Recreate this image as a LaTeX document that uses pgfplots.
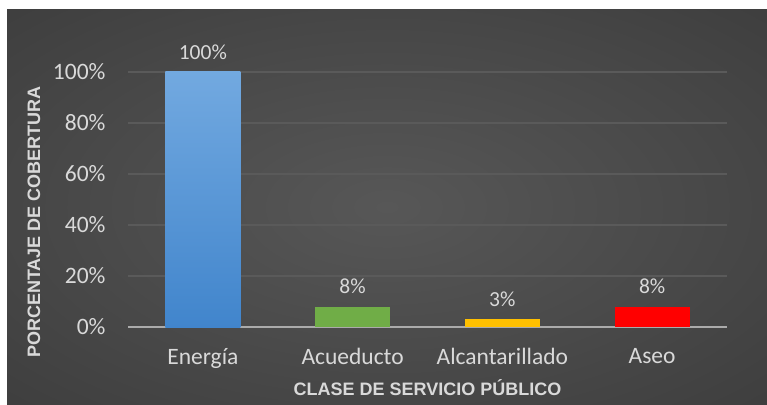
\documentclass[border=0pt]{standalone}
\usepackage{pgfplots}
\pgfplotsset{compat=1.18}
\usepackage{fontspec}
\setmainfont{Carlito}
\newfontfamily\titlefont{Liberation Sans}

\definecolor{bgin}{HTML}{575757}
\definecolor{bgmid}{HTML}{383838}
\definecolor{bgout}{HTML}{232323}
\definecolor{txt}{HTML}{D9D9D9}
\definecolor{gridc}{HTML}{5A5A5A}
\definecolor{basec}{HTML}{ABABAB}
\definecolor{blueTop}{HTML}{72A9E0}
\definecolor{blueBot}{HTML}{4185CC}
\definecolor{greenc}{HTML}{70AD47}
\definecolor{goldc}{HTML}{FFC000}
\definecolor{redc}{HTML}{FF0000}

\pgfdeclareradialshading{bgshade}{\pgfpoint{0bp}{0bp}}{%
  color(0bp)=(bgin); color(45bp)=(bgmid); color(71bp)=(bgout)}

\begin{document}
\begin{tikzpicture}[x=1pt,y=1pt]
\useasboundingbox (0,0) rectangle (767,404);
\fill[white] (0,0) rectangle (767,404);
\shade[shading=bgshade] (7,0) rectangle (767,394);

\begin{axis}[
    at={(128pt,77pt)}, anchor=south west,
    scale only axis,
    width=599pt, height=255pt,
    ymin=0, ymax=100,
    xmin=-0.5, xmax=3.5,
    ybar, bar width=0.5, bar shift=0pt,
    axis line style={draw=none},
    major tick length=0pt,
    xtick={0,1,2,3},
    xticklabels={Energía,Acueducto,Alcantarillado,Aseo},
    ytick={0,20,40,60,80,100},
    yticklabels={0\%,20\%,40\%,60\%,80\%,100\%},
    ymajorgrids=true,
    grid style={gridc, line width=1.5pt},
    extra y ticks={0},
    extra y tick labels={},
    extra y tick style={grid style={basec, line width=2.5pt}},
    tick label style={font=\fontsize{23.5}{27}\selectfont, text=txt},
    yticklabel style={xshift=-19pt},
    xticklabel style={yshift=-18pt},
    nodes near coords,
    nodes near coords style={font=\fontsize{21.5}{25}\selectfont, text=txt, yshift=9pt},
    point meta=explicit symbolic,
  ]
\addplot[draw=none, top color=blueTop, bottom color=blueBot] coordinates {(0,100) [100\%]};
\addplot[draw=none, fill=greenc] coordinates {(1,8) [8\%]};
\addplot[draw=none, fill=goldc] coordinates {(2,3) [3\%]};
\addplot[draw=none, fill=redc] coordinates {(3,8) [8\%]};
\end{axis}

\node[text=txt, rotate=90, font=\titlefont\bfseries\fontsize{18}{21}\selectfont] at (34,182) {PORCENTAJE DE COBERTURA};
\node[text=txt, font=\titlefont\bfseries\fontsize{18}{21}\selectfont] at (427.5,16) {CLASE DE SERVICIO PÚBLICO};
\end{tikzpicture}
\end{document}
